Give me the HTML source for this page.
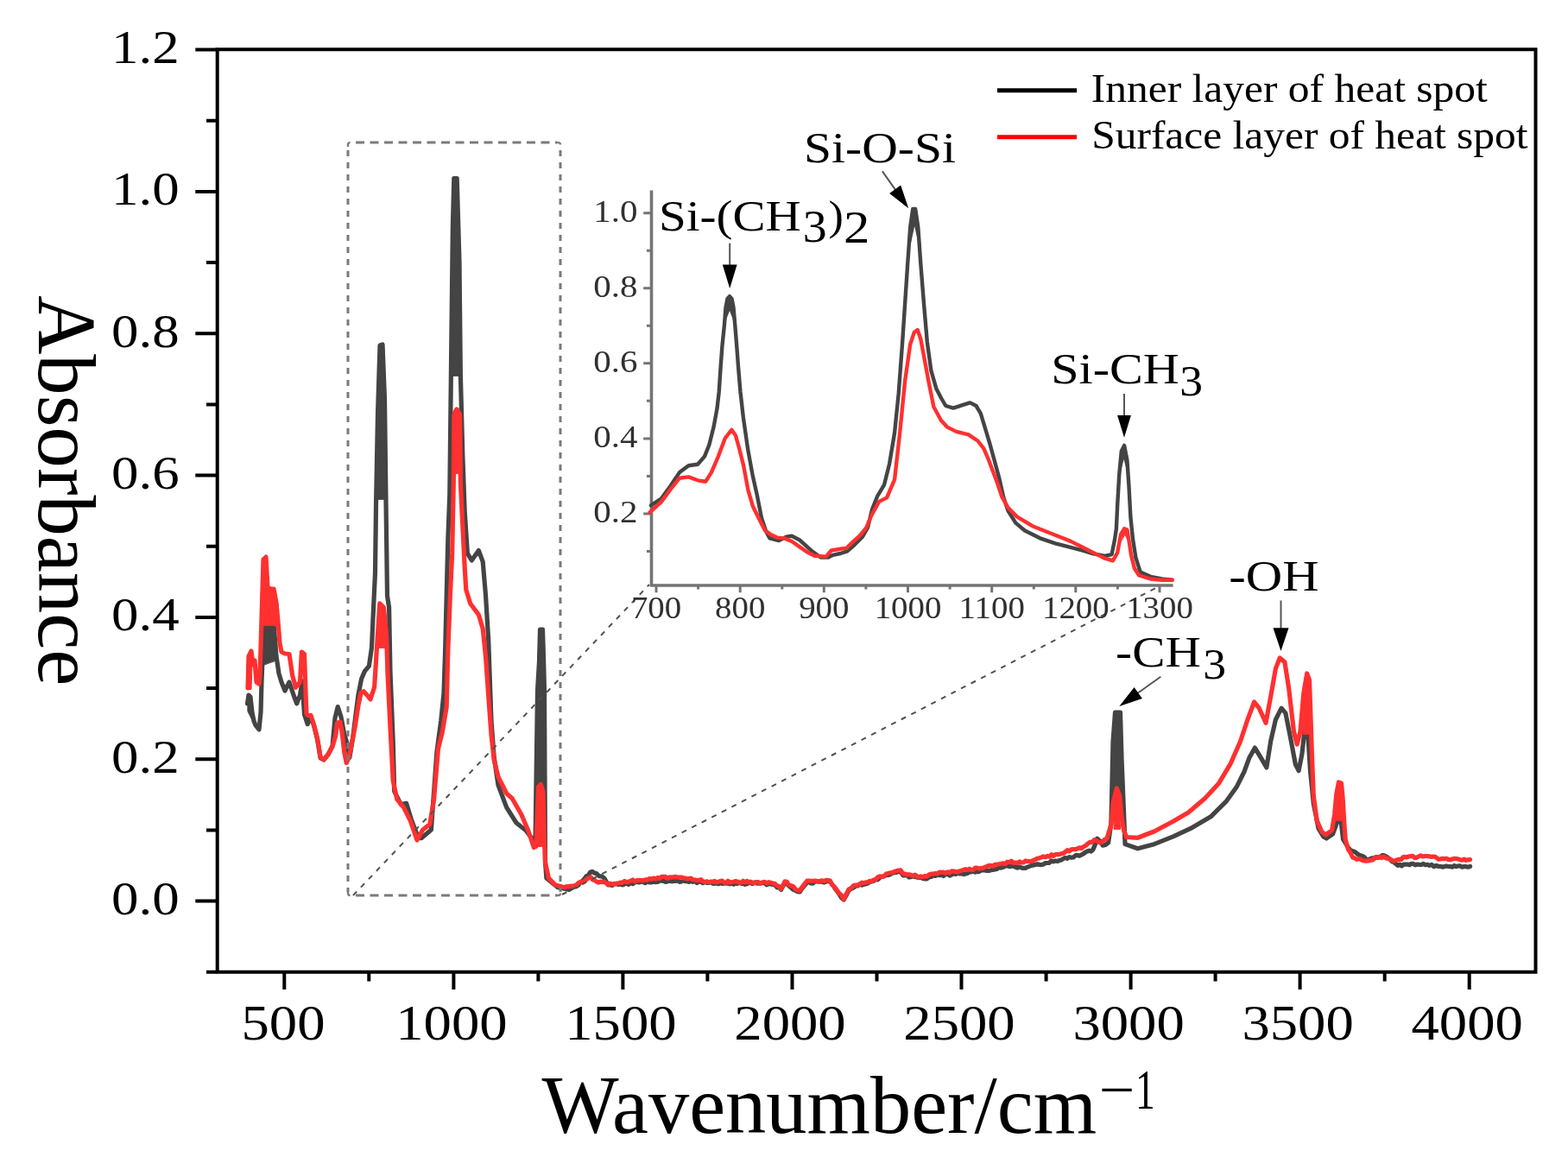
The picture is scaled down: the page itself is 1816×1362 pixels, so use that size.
<!DOCTYPE html><html><head><meta charset="utf-8"><title>FTIR spectra</title><style>html,body{margin:0;padding:0;background:#fff;}svg{display:block;}</style></head><body>
<svg width="1816" height="1362" viewBox="0 0 1816 1362" font-family="'Liberation Serif', 'Times New Roman', serif">
<rect width="1816" height="1362" fill="#fff"/>
<g fill="none" stroke-linejoin="round" stroke-linecap="round">
<polyline points="286.5,815.0 288.0,805.0 290.0,807.0 292.0,825.0 294.0,835.0 296.0,840.0 300.0,845.0 302.0,825.0 303.0,790.0 305.0,740.0 307.0,725.0 310.0,728.0 313.0,715.0 316.0,712.0 318.0,735.0 320.0,760.0 323.0,780.0 326.0,790.0 330.0,800.0 335.0,790.0 340.0,805.0 343.7,814.9 347.5,805.0 350.0,788.7 352.5,827.4 356.2,838.6 360.0,830.0 363.7,841.0 367.5,856.0 371.2,878.0 375.0,880.0 380.0,874.0 385.0,864.0 388.0,831.6 391.2,818.6 394.9,829.9 398.7,850.0 402.4,862.3 404.9,877.3 408.6,854.8 414.9,804.9 418.6,786.2 422.4,777.4 427.4,771.4 430.5,749.8 432.0,715.8 434.5,663.3 435.5,585.0 437.5,480.0 440.0,400.0 443.0,399.0 445.5,462.0 447.0,580.0 448.5,690.0 450.6,703.5 452.0,777.5 455.2,857.8 456.7,916.4 464.4,931.8 470.6,930.3 476.8,950.4 484.5,970.4 488.0,970.7 499.4,961.0 505.9,870.5 510.7,835.0 514.0,802.6 515.6,754.0 517.2,689.4 518.8,624.7 520.8,572.0 522.5,422.0 524.3,265.0 525.8,206.5 529.2,206.5 532.0,303.0 533.4,435.0 535.8,526.0 538.2,592.3 541.4,640.9 546.3,649.0 554.4,637.6 559.2,650.6 562.5,689.4 565.7,741.0 567.3,786.4 569.0,835.0 572.2,877.0 577.0,909.3 586.7,935.2 598.0,953.0 609.0,961.7 617.0,972.3 620.0,975.0 622.5,800.0 624.5,766.0 625.5,729.0 628.5,729.0 629.5,761.0 630.5,800.0 631.5,998.7 632.9,1017.0 646.0,1027.8 659.3,1030.4 661.9,1028.6 664.6,1026.8 667.2,1026.8 669.9,1025.1 672.2,1021.7 674.4,1020.7 676.7,1018.0 678.9,1014.9 681.2,1013.8 683.4,1010.4 685.7,1009.3 688.4,1010.9 691.0,1011.7 693.7,1014.6 696.9,1014.8 700.0,1017.2 704.3,1025.0 706.7,1024.6 709.1,1025.5 711.5,1023.5 713.8,1023.6 716.2,1024.5 718.6,1024.0 721.0,1024.9 723.4,1023.8 725.8,1023.1 728.2,1024.3 730.5,1021.7 732.9,1023.6 735.3,1021.9 737.7,1021.3 740.1,1022.0 742.5,1021.0 744.9,1021.4 747.3,1022.7 749.7,1020.9 752.0,1021.9 754.4,1022.0 756.8,1021.3 759.2,1021.7 761.6,1021.5 763.9,1020.2 766.2,1020.1 768.6,1020.4 770.9,1021.5 773.2,1020.7 775.6,1020.3 777.9,1020.8 780.2,1020.5 782.4,1020.4 784.6,1020.0 786.9,1021.3 789.1,1021.0 791.3,1019.8 793.5,1020.7 795.8,1020.6 798.0,1021.5 800.2,1020.5 802.5,1021.3 804.9,1020.4 807.2,1022.5 809.5,1020.5 811.8,1021.5 814.1,1022.7 816.5,1021.3 818.8,1022.5 821.0,1022.5 823.2,1021.4 825.4,1023.1 827.6,1023.3 829.8,1022.9 832.0,1023.7 834.3,1022.3 836.5,1023.3 838.7,1023.1 840.9,1023.1 843.1,1022.8 845.3,1023.8 847.5,1023.0 849.7,1024.2 851.9,1022.9 854.1,1023.4 856.3,1021.9 858.5,1023.5 860.7,1023.4 862.9,1024.3 865.1,1023.8 867.3,1022.4 869.5,1022.7 871.7,1023.4 873.9,1021.8 876.1,1023.0 878.5,1023.1 880.9,1022.6 883.3,1022.7 885.7,1022.7 888.0,1024.8 890.4,1023.4 892.8,1023.9 895.2,1024.5 897.6,1025.0 900.0,1027.8 902.3,1027.5 904.7,1030.4 909.0,1022.0 911.4,1023.9 913.8,1026.1 916.2,1028.0 918.7,1030.2 921.2,1031.3 923.7,1032.7 926.2,1033.0 929.1,1028.8 931.9,1025.4 934.8,1022.0 937.0,1021.6 939.2,1022.9 941.5,1023.1 943.7,1020.9 945.9,1020.9 948.1,1021.1 950.4,1021.0 952.6,1021.6 954.8,1021.9 957.0,1021.0 959.3,1020.3 961.5,1021.5 963.9,1024.5 966.2,1027.5 968.6,1031.0 971.5,1034.8 974.3,1039.5 977.2,1042.0 980.1,1037.0 983.0,1031.0 985.8,1029.4 988.7,1028.0 991.5,1026.0 993.7,1025.8 996.0,1023.6 998.2,1025.2 1000.4,1024.3 1002.7,1023.9 1004.9,1023.1 1007.1,1021.4 1009.4,1020.8 1011.6,1020.5 1014.1,1018.5 1016.5,1018.8 1019.0,1016.4 1021.4,1015.4 1023.9,1014.7 1026.3,1013.6 1028.8,1013.5 1031.2,1012.5 1033.6,1011.2 1035.9,1010.5 1038.3,1010.3 1040.7,1009.5 1043.1,1010.0 1046.0,1014.0 1048.3,1014.0 1050.6,1013.5 1052.8,1016.0 1055.1,1015.7 1057.4,1014.8 1059.7,1015.5 1062.0,1016.1 1064.2,1016.4 1066.5,1016.2 1068.8,1017.5 1071.2,1017.9 1073.6,1017.8 1076.0,1015.9 1078.4,1015.5 1080.8,1013.9 1083.2,1014.5 1085.6,1013.3 1088.0,1013.7 1090.3,1013.3 1092.7,1014.5 1095.1,1012.6 1097.5,1012.0 1099.9,1014.2 1102.3,1012.9 1104.7,1011.7 1107.0,1012.5 1109.4,1011.0 1111.8,1012.0 1114.0,1011.8 1116.2,1012.6 1118.4,1012.0 1120.6,1011.3 1122.8,1009.8 1125.0,1009.8 1127.2,1009.0 1129.4,1010.2 1131.6,1009.3 1133.8,1009.6 1136.0,1008.2 1138.2,1007.6 1140.4,1008.0 1142.8,1008.4 1145.2,1008.5 1147.6,1007.8 1149.9,1007.3 1152.3,1007.0 1154.7,1006.4 1157.1,1004.7 1159.5,1005.1 1161.8,1004.3 1164.2,1003.1 1166.6,1002.7 1169.0,1003.6 1171.3,1003.1 1173.7,1003.1 1176.0,1004.3 1178.3,1005.1 1180.7,1003.8 1183.0,1005.1 1185.3,1005.3 1187.7,1005.3 1190.0,1004.2 1192.3,1003.3 1194.6,1002.4 1196.9,1001.9 1199.2,1001.4 1201.5,1000.9 1203.8,1001.4 1206.2,1001.6 1208.5,1001.0 1210.8,999.5 1213.1,999.5 1215.4,999.3 1217.7,996.9 1220.0,997.9 1222.3,997.0 1224.6,997.5 1226.9,996.6 1229.2,995.9 1231.5,994.6 1233.8,993.3 1236.1,994.3 1238.4,992.5 1240.8,993.2 1243.1,993.0 1245.4,990.9 1247.7,990.4 1250.0,991.2 1252.3,990.1 1254.6,988.9 1256.9,987.1 1259.1,986.0 1261.4,985.1 1263.6,986.0 1265.9,984.0 1268.3,978.3 1270.7,971.1 1274.0,974.2 1277.2,979.2 1280.4,978.4 1283.6,976.0 1286.9,953.4 1287.7,917.9 1289.0,859.0 1291.5,825.0 1297.5,825.0 1299.0,877.5 1301.3,934.0 1303.0,977.6 1317.6,982.8 1336.7,977.7 1358.7,968.9 1380.7,958.6 1402.8,945.4 1420.4,927.8 1432.1,911.6 1440.9,894.0 1446.8,877.8 1453.4,866.1 1460.2,877.4 1466.9,888.9 1471.7,858.3 1477.4,833.5 1484.1,820.2 1488.9,825.9 1494.6,854.5 1500.3,885.0 1504.1,892.7 1507.9,873.6 1510.8,846.9 1512.7,831.6 1514.6,846.9 1517.5,892.7 1521.3,930.8 1527.0,959.5 1532.7,969.0 1536.3,971.0 1543.6,965.8 1548.3,953.2 1550.4,940.0 1553.0,950.0 1555.5,972.0 1561.4,981.5 1564.0,984.6 1566.6,985.6 1569.2,986.6 1571.8,988.8 1574.4,990.5 1577.0,991.0 1579.7,992.3 1582.3,995.1 1584.6,995.9 1586.9,994.6 1589.3,993.8 1591.6,994.4 1593.9,992.6 1596.2,993.3 1598.6,992.7 1600.9,990.6 1603.2,990.9 1605.4,991.9 1607.7,993.6 1609.9,995.2 1612.2,997.7 1614.4,998.5 1616.7,1000.5 1618.9,1002.4 1621.1,1001.1 1623.4,1002.9 1625.6,1001.1 1627.9,1001.1 1630.1,1001.1 1632.4,1001.7 1634.6,1000.3 1636.9,1000.3 1639.2,1001.9 1641.6,1001.0 1643.9,1001.3 1646.2,1001.5 1648.5,1000.4 1650.9,1001.8 1653.2,1001.3 1655.5,1002.4 1658.1,1001.4 1660.8,1003.7 1663.4,1002.4 1666.0,1003.5 1668.3,1003.4 1670.6,1004.1 1672.9,1003.6 1675.2,1003.0 1677.4,1003.5 1679.7,1003.6 1682.0,1004.2 1684.3,1002.5 1686.6,1003.7 1688.9,1002.8 1691.2,1002.9 1693.4,1004.2 1695.7,1003.5 1698.0,1003.7 1700.3,1004.2 1702.6,1003.5" stroke="#444" stroke-width="5.2"/>
<polygon points="435.5,578.0 437.5,480.0 439.5,399.0 444.5,399.0 446.0,462.0 448.5,578.0" fill="#444" stroke="#444" stroke-width="1"/>
<polygon points="522.5,435.0 523.4,300.0 524.6,240.0 525.8,206.5 529.2,206.5 530.8,240.0 532.0,303.0 533.4,435.0" fill="#444" stroke="#444" stroke-width="1"/>
<polygon points="623.5,975.0 624.0,766.0 625.5,729.0 628.5,729.0 630.0,761.0 630.5,975.0" fill="#444" stroke="#444" stroke-width="1"/>
<polygon points="1289.0,950.0 1290.0,859.0 1292.0,825.0 1296.5,825.0 1298.5,877.0 1300.0,950.0" fill="#444" stroke="#444" stroke-width="1"/>
<polygon points="305.0,770.0 306.0,735.0 309.0,727.0 313.0,716.0 316.0,713.0 318.0,735.0 319.0,765.0" fill="#444" stroke="#444" stroke-width="1"/>
<polygon points="287.0,812.0 290.0,806.0 296.0,838.0 300.0,846.0 296.0,842.0 287.0,824.0" fill="#444" stroke="#444" stroke-width="1"/>
<polyline points="287.0,797.0 288.0,760.0 291.0,754.0 293.0,770.0 295.0,765.0 297.0,790.0 300.0,792.0 301.0,780.0 302.0,750.0 303.0,716.0 304.0,682.0 305.0,648.0 308.0,645.0 310.0,680.0 313.0,682.0 317.0,682.0 320.0,698.0 322.0,720.0 324.0,745.0 326.0,755.0 330.0,757.0 335.0,757.5 338.7,782.4 342.5,796.2 347.5,790.0 349.4,755.0 352.5,757.5 353.7,792.4 355.0,827.4 360.0,828.6 363.7,839.8 367.5,854.8 371.2,877.3 375.0,879.8 380.0,873.6 385.0,864.8 388.7,852.3 390.5,837.4 393.7,836.1 396.2,848.6 398.7,871.0 401.2,883.5 404.3,877.3 407.4,861.0 411.1,842.3 414.9,817.4 418.0,802.4 421.2,800.7 425.0,804.9 429.0,810.0 433.6,796.0 436.7,746.7 439.8,698.8 444.4,703.5 447.5,734.3 449.0,780.6 452.0,842.3 455.2,904.0 459.8,925.7 467.5,935.0 475.2,950.4 483.0,973.0 489.7,961.0 497.8,954.6 502.6,925.5 507.5,867.2 512.3,847.8 517.2,818.7 518.8,754.0 521.4,689.4 523.7,640.9 525.3,560.0 526.0,480.0 529.0,474.0 532.5,480.0 533.4,560.0 536.6,624.7 538.2,657.0 539.8,683.0 544.7,699.0 554.4,712.0 559.2,728.2 562.5,760.5 565.7,805.8 569.0,851.0 572.2,880.2 577.0,899.6 586.7,919.0 593.2,924.7 603.8,943.2 611.7,961.7 618.3,981.5 621.0,980.2 623.6,911.5 626.3,908.5 628.9,916.8 630.2,964.3 631.5,998.7 635.5,1017.2 643.4,1025.1 654.0,1027.8 656.2,1026.7 658.4,1027.0 660.6,1026.1 662.8,1026.3 665.0,1025.9 667.2,1025.1 669.9,1022.6 672.5,1021.2 675.1,1022.0 677.8,1019.8 680.0,1017.9 682.2,1016.5 684.4,1015.9 686.6,1019.0 688.8,1019.4 691.0,1021.2 693.2,1022.1 695.5,1021.1 697.8,1021.6 700.0,1021.2 704.3,1024.4 706.7,1023.1 709.1,1024.0 711.5,1024.3 713.8,1023.0 716.2,1023.2 718.6,1022.2 721.0,1022.3 723.4,1020.4 725.8,1021.9 728.2,1021.1 730.5,1020.1 732.9,1019.0 735.3,1020.9 737.7,1019.6 740.1,1019.3 742.5,1019.6 744.9,1019.7 747.3,1018.9 749.7,1019.2 752.0,1017.5 754.4,1018.2 756.8,1017.0 759.2,1017.9 761.6,1016.5 763.9,1017.4 766.2,1015.3 768.6,1015.3 770.9,1015.4 773.2,1017.3 775.6,1015.8 777.9,1016.2 780.2,1015.8 782.4,1015.4 784.6,1016.1 786.9,1016.0 789.1,1016.0 791.3,1016.8 793.5,1017.0 795.8,1017.9 798.0,1017.5 800.2,1017.2 802.5,1018.8 804.9,1019.0 807.2,1019.8 809.5,1019.4 811.8,1018.6 814.1,1020.8 816.5,1021.6 818.8,1020.8 821.0,1021.9 823.2,1021.1 825.4,1021.5 827.6,1020.3 829.8,1021.9 832.0,1021.3 834.3,1020.6 836.5,1020.1 838.7,1022.2 840.9,1022.6 843.1,1020.3 845.3,1022.2 847.5,1021.5 849.7,1021.3 851.9,1020.6 854.1,1021.0 856.3,1022.2 858.5,1022.5 860.7,1020.3 862.9,1021.8 865.1,1020.3 867.3,1022.1 869.5,1021.1 871.7,1022.5 873.9,1022.7 876.1,1021.5 878.5,1021.7 880.9,1023.3 883.3,1021.7 885.7,1021.3 888.0,1022.9 890.4,1021.7 892.8,1022.3 895.2,1023.1 897.6,1023.6 900.0,1025.8 902.3,1026.6 904.7,1029.4 909.0,1020.8 911.4,1021.3 913.8,1025.1 916.2,1025.8 918.7,1026.7 921.2,1029.8 923.7,1031.1 926.2,1031.5 929.1,1027.3 931.9,1023.7 934.8,1020.0 937.0,1020.1 939.2,1020.4 941.5,1020.3 943.7,1020.2 945.9,1020.4 948.1,1021.2 950.4,1020.1 952.6,1019.9 954.8,1020.6 957.0,1019.4 959.3,1019.6 961.5,1020.1 963.9,1024.7 966.2,1026.8 968.6,1030.1 971.5,1034.1 974.3,1036.5 977.2,1041.6 980.1,1035.6 983.0,1030.1 985.8,1028.6 988.7,1025.5 991.5,1025.1 993.7,1024.8 996.0,1024.2 998.2,1022.1 1000.4,1022.9 1002.7,1021.8 1004.9,1021.8 1007.1,1020.3 1009.4,1020.6 1011.6,1019.4 1014.1,1018.9 1016.5,1015.9 1019.0,1014.9 1021.4,1015.3 1023.9,1015.0 1026.3,1012.0 1028.8,1011.5 1031.2,1010.8 1033.6,1010.5 1035.9,1009.2 1038.3,1008.7 1040.7,1008.0 1043.1,1007.9 1046.0,1012.2 1048.3,1012.2 1050.6,1013.2 1052.8,1012.8 1055.1,1013.3 1057.4,1014.7 1059.7,1013.1 1062.0,1014.9 1064.2,1015.7 1066.5,1014.9 1068.8,1015.8 1071.2,1014.4 1073.6,1015.2 1076.0,1013.0 1078.4,1012.1 1080.8,1012.0 1083.2,1011.5 1085.6,1011.8 1088.0,1010.0 1090.3,1010.3 1092.7,1010.1 1095.1,1011.2 1097.5,1009.9 1099.9,1010.8 1102.3,1008.8 1104.7,1009.0 1107.0,1009.6 1109.4,1009.9 1111.8,1008.7 1114.0,1008.2 1116.2,1007.3 1118.4,1006.7 1120.6,1007.5 1122.8,1006.2 1125.0,1007.5 1127.2,1007.3 1129.4,1005.2 1131.6,1005.1 1133.8,1006.2 1136.0,1005.4 1138.2,1005.5 1140.4,1004.4 1142.8,1003.5 1145.2,1002.5 1147.6,1002.4 1149.9,1003.2 1152.3,1001.4 1154.7,1001.1 1157.1,1000.8 1159.5,1000.3 1161.8,999.8 1164.2,1000.7 1166.6,998.2 1169.0,998.6 1171.3,997.2 1173.7,999.5 1176.0,999.2 1178.3,999.4 1180.7,997.8 1183.0,999.0 1185.3,998.9 1187.7,996.9 1190.0,997.5 1192.3,997.6 1194.6,997.3 1196.9,996.3 1199.2,995.3 1201.5,994.2 1203.8,993.7 1206.2,992.9 1208.5,991.9 1210.8,992.7 1213.1,991.4 1215.4,992.2 1217.7,989.6 1220.0,991.3 1222.3,989.7 1224.6,989.6 1226.9,989.5 1229.2,988.8 1231.5,988.2 1233.8,986.7 1236.1,984.6 1238.4,985.9 1240.8,983.8 1243.1,983.5 1245.4,983.8 1247.7,982.8 1250.0,981.8 1252.3,982.6 1254.6,980.8 1257.2,979.5 1259.8,977.1 1262.3,975.3 1264.9,975.3 1267.5,972.7 1270.8,974.3 1274.0,976.0 1276.7,975.1 1279.3,972.3 1282.0,971.1 1286.9,955.0 1289.3,929.2 1293.3,913.0 1296.6,921.0 1299.0,945.3 1301.4,961.4 1304.6,969.5 1317.6,970.3 1336.7,963.0 1358.7,951.2 1376.3,941.0 1395.4,924.8 1411.6,907.2 1424.8,885.2 1436.5,858.7 1445.3,832.3 1452.6,813.0 1458.3,820.2 1466.0,837.3 1471.7,806.8 1477.4,774.4 1482.2,762.0 1487.9,766.7 1492.7,797.3 1498.4,846.9 1502.2,862.1 1506.0,846.9 1509.8,803.0 1513.7,780.0 1516.5,787.7 1517.5,816.3 1519.4,873.6 1521.3,921.3 1525.1,950.0 1530.8,963.3 1535.2,966.8 1542.6,961.6 1545.7,942.8 1547.8,919.8 1550.4,906.0 1553.5,907.2 1555.1,924.0 1556.7,951.1 1558.2,972.1 1561.4,983.6 1564.0,987.5 1566.6,993.0 1569.2,993.9 1571.8,995.4 1574.5,994.5 1577.1,996.1 1579.7,996.9 1582.3,997.2 1584.9,996.9 1587.5,996.1 1590.1,995.9 1592.8,992.8 1595.4,993.4 1598.0,992.0 1600.4,993.6 1602.9,992.2 1605.3,994.0 1608.1,994.5 1610.9,995.5 1613.7,997.2 1615.9,996.7 1618.2,995.8 1620.4,995.3 1622.7,995.5 1624.9,992.9 1627.2,992.4 1629.4,993.0 1631.7,991.9 1633.9,991.7 1636.2,991.4 1638.5,993.6 1640.7,993.1 1643.0,992.0 1645.3,990.9 1647.7,992.0 1650.0,991.5 1652.4,991.5 1654.8,991.6 1657.1,992.4 1659.5,992.2 1661.8,992.0 1666.0,995.1 1668.3,994.8 1670.6,994.4 1672.9,994.7 1675.2,994.2 1677.4,995.4 1679.7,995.8 1682.0,995.0 1684.3,994.3 1686.6,994.5 1688.9,995.1 1691.2,995.7 1693.4,996.2 1695.7,995.2 1698.0,996.3 1700.3,995.9 1702.6,995.6" stroke="#ff3030" stroke-width="5.2"/>
<polygon points="523.5,548.0 524.5,478.0 527.0,473.0 531.0,473.0 533.5,478.0 535.0,548.0" fill="#ff3030" stroke="#ff3030" stroke-width="1"/>
<polygon points="437.0,750.0 439.0,701.0 443.0,701.0 447.0,735.0 447.5,750.0" fill="#ff3030" stroke="#ff3030" stroke-width="1"/>
<polygon points="622.5,980.0 624.0,912.0 626.3,908.5 628.5,912.0 629.5,980.0" fill="#ff3030" stroke="#ff3030" stroke-width="1"/>
<polygon points="1290.0,960.0 1291.5,925.0 1293.3,914.0 1295.5,921.0 1297.5,960.0" fill="#ff3030" stroke="#ff3030" stroke-width="1"/>
<polygon points="1509.0,850.0 1511.5,790.0 1513.7,781.0 1516.5,788.0 1518.5,850.0" fill="#ff3030" stroke="#ff3030" stroke-width="1"/>
<polygon points="1546.5,950.0 1548.0,915.0 1550.4,906.5 1553.5,907.5 1555.5,930.0 1556.0,950.0" fill="#ff3030" stroke="#ff3030" stroke-width="1"/>
<polygon points="301.5,724.0 303.0,680.0 304.0,647.0 309.0,645.0 311.0,679.0 318.0,683.0 322.0,700.0 323.0,724.0" fill="#ff3030" stroke="#ff3030" stroke-width="1"/>
<polygon points="286.5,798.0 287.5,760.0 290.0,754.0 292.0,770.0 291.0,798.0" fill="#ff3030" stroke="#ff3030" stroke-width="1"/>
</g>
<g stroke="#000" stroke-width="4.0" fill="none" stroke-linecap="butt">
<path d="M251.7 57.3H1778.5V1125.8H251.7Z"/>
<path d="M226.3 1043.6H251.7M226.3 879.3H251.7M226.3 714.9H251.7M226.3 550.6H251.7M226.3 386.2H251.7M226.3 221.9H251.7M226.3 57.6H251.7M239 1125.8H251.7M239 961.4H251.7M239 797.1H251.7M239 632.7H251.7M239 468.4H251.7M239 304.1H251.7M239 139.7H251.7M329.3 1125.8V1146M525.4 1125.8V1146M721.4 1125.8V1146M917.5 1125.8V1146M1113.5 1125.8V1146M1309.6 1125.8V1146M1505.6 1125.8V1146M1701.7 1125.8V1146M427.3 1125.8V1136.5M623.4 1125.8V1136.5M819.4 1125.8V1136.5M1015.5 1125.8V1136.5M1211.6 1125.8V1136.5M1407.6 1125.8V1136.5M1603.7 1125.8V1136.5"/>
</g>
<g stroke="#7a7a7a" stroke-width="3" fill="none">
<path d="M412.0 165.1H645.0" stroke-dasharray="10 6.5"/>
<path d="M412.0 1037.0H645.0" stroke-dasharray="10 6.5"/>
<path d="M403.0 174.1V1033.0" stroke-dasharray="7 7"/>
<path d="M649.0 174.1V1033.0" stroke-dasharray="7 7"/>
<path d="M403.0 170.1V167.6Q403.0 165.1 405.5 165.1" stroke-width="2.4"/>
<path d="M644.0 165.1H646.5Q649.0 165.1 649.0 167.6" stroke-width="2.4"/>
<path d="M403.0 1032.0V1034.5Q403.0 1037.0 405.5 1037.0" stroke-width="2.4"/>
<path d="M644.0 1037.0H646.5Q649.0 1037.0 649.0 1034.5" stroke-width="2.4"/>
</g>
<g stroke="#505050" stroke-width="2" fill="none" stroke-dasharray="6 7">
<path d="M409 1037L752 677"/>
<path d="M651 1036L1344.5 678"/>
</g>
<g stroke="#747474" stroke-width="3.6" fill="none">
<path d="M754.5 220.6V678H1358.6"/>
<path d="M745.2 594.9H754.5M745.2 507.9H754.5M745.2 420.8H754.5M745.2 333.8H754.5M745.2 246.7H754.5M749 638.4H754.5M749 551.4H754.5M749 464.3H754.5M749 377.3H754.5M749 290.2H754.5M760.0 678V686.3M857.2 678V686.3M954.3 678V686.3M1051.5 678V686.3M1148.7 678V686.3M1245.8 678V686.3M1343.0 678V686.3M808.6 678V682.4M905.8 678V682.4M1002.9 678V682.4M1100.1 678V682.4M1197.3 678V682.4M1294.4 678V682.4" stroke-width="3"/>
</g>
<g fill="none" stroke-linejoin="round" stroke-linecap="round">
<polyline points="754.0,585.4 765.8,577.5 776.4,563.0 787.0,547.1 797.5,539.2 808.1,537.8 816.0,528.6 821.3,515.4 826.6,494.3 830.5,473.2 832.7,454.0 834.6,425.5 836.5,400.0 838.9,376.8 840.5,356.0 842.5,346.0 845.0,343.2 847.5,346.0 849.5,356.0 851.3,376.8 853.2,400.0 855.1,425.5 857.5,454.0 860.9,483.7 866.2,520.7 871.5,549.7 876.8,573.5 882.0,599.9 887.3,615.7 891.5,623.4 902.0,626.1 910.8,621.7 917.0,620.8 925.8,625.2 934.6,633.1 941.7,639.3 950.5,645.5 959.3,645.5 964.6,642.8 973.4,641.0 981.3,638.4 990.1,630.5 998.9,621.7 1005.0,611.0 1010.0,590.0 1016.0,575.0 1024.1,561.3 1030.1,537.2 1036.1,501.1 1040.7,455.9 1045.2,395.7 1048.2,350.5 1051.2,305.3 1054.2,263.1 1057.2,242.0 1060.2,242.0 1063.3,263.1 1066.3,305.3 1069.9,350.5 1073.8,395.7 1078.3,428.8 1084.3,449.9 1090.0,461.0 1095.3,470.0 1104.1,472.6 1114.7,469.1 1123.5,466.4 1130.5,470.0 1135.8,478.8 1141.1,496.4 1146.4,514.0 1151.7,533.4 1157.0,552.8 1162.2,575.7 1167.5,591.5 1176.3,605.6 1186.9,614.5 1204.5,623.3 1222.2,629.4 1239.8,633.8 1253.2,637.4 1266.4,641.4 1279.6,644.0 1287.6,642.1 1290.9,625.5 1292.9,612.3 1294.2,584.6 1296.2,550.2 1298.8,522.5 1302.1,515.9 1305.4,533.0 1307.4,562.1 1309.4,599.1 1312.0,624.2 1315.3,645.4 1320.6,662.5 1332.5,667.8 1345.7,670.5 1357.6,671.8" stroke="#444" stroke-width="4.4"/>
<polygon points="1296.5,552.0 1298.8,522.5 1302.1,516.0 1305.4,533.0 1306.7,552.0 1301.6,532.0" fill="#444"/>
<polygon points="1054.5,284.0 1056.5,244.0 1059.0,240.0 1061.5,244.0 1064.0,284.0 1059.2,262.0" fill="#444"/>
<polygon points="840.3,372.0 842.5,347.0 845.0,343.5 847.5,347.0 849.7,372.0 845.0,360.0" fill="#444"/>
<polyline points="752.6,593.3 765.8,581.4 776.4,566.9 787.0,553.7 797.5,552.4 808.1,556.3 817.3,557.7 823.9,547.1 831.9,528.6 839.8,507.5 847.3,497.8 851.9,504.2 856.5,520.7 861.1,539.1 866.6,568.4 872.1,586.8 879.4,601.5 885.9,614.3 892.3,618.9 900.0,622.6 908.2,623.4 917.0,627.0 925.8,633.1 934.6,639.3 943.4,643.7 956.7,644.6 962.8,637.5 972.5,635.8 980.4,634.9 987.5,627.8 996.3,619.9 1003.3,611.1 1009.0,597.5 1018.1,580.9 1027.1,576.4 1036.1,555.3 1042.2,501.1 1048.2,440.8 1054.2,398.7 1058.7,385.1 1062.7,382.0 1066.3,392.7 1070.8,416.7 1075.3,440.8 1081.3,471.0 1090.0,487.0 1097.0,494.6 1107.6,499.9 1121.7,503.4 1132.3,510.5 1139.3,519.3 1144.6,531.6 1149.9,545.7 1155.2,559.8 1160.5,575.7 1167.5,588.0 1178.1,598.6 1195.7,609.2 1213.3,616.2 1231.0,623.3 1240.0,626.9 1253.2,633.5 1266.4,640.1 1279.6,646.7 1288.9,649.3 1294.2,640.1 1298.1,618.9 1302.1,612.3 1305.4,613.6 1307.4,625.5 1310.0,642.7 1314.0,658.6 1319.3,666.5 1332.5,670.5 1345.7,671.8 1357.6,671.8" stroke="#ff3030" stroke-width="4.4"/>
<polygon points="1299.0,627.0 1300.5,615.0 1302.1,612.5 1305.4,613.6 1306.3,627.0 1302.8,620.0" fill="#ff3030"/>
</g>
<text transform="translate(207.7 1059.0) scale(1.130 1)" font-size="55.7" text-anchor="end" fill="#000">0.0</text>
<text transform="translate(207.7 894.7) scale(1.130 1)" font-size="55.7" text-anchor="end" fill="#000">0.2</text>
<text transform="translate(207.7 730.3) scale(1.130 1)" font-size="55.7" text-anchor="end" fill="#000">0.4</text>
<text transform="translate(207.7 566.0) scale(1.130 1)" font-size="55.7" text-anchor="end" fill="#000">0.6</text>
<text transform="translate(207.7 401.6) scale(1.130 1)" font-size="55.7" text-anchor="end" fill="#000">0.8</text>
<text transform="translate(207.7 237.3) scale(1.130 1)" font-size="55.7" text-anchor="end" fill="#000">1.0</text>
<text transform="translate(207.7 73.0) scale(1.130 1)" font-size="55.7" text-anchor="end" fill="#000">1.2</text>
<text transform="translate(328.0 1204.4) scale(1.135 1)" font-size="57.0" text-anchor="middle" fill="#000">500</text>
<text transform="translate(522.9 1204.4) scale(1.135 1)" font-size="57.0" text-anchor="middle" fill="#000">1000</text>
<text transform="translate(718.9 1204.4) scale(1.135 1)" font-size="57.0" text-anchor="middle" fill="#000">1500</text>
<text transform="translate(915.0 1204.4) scale(1.135 1)" font-size="57.0" text-anchor="middle" fill="#000">2000</text>
<text transform="translate(1111.0 1204.4) scale(1.135 1)" font-size="57.0" text-anchor="middle" fill="#000">2500</text>
<text transform="translate(1307.1 1204.4) scale(1.135 1)" font-size="57.0" text-anchor="middle" fill="#000">3000</text>
<text transform="translate(1503.1 1204.4) scale(1.135 1)" font-size="57.0" text-anchor="middle" fill="#000">3500</text>
<text transform="translate(1699.2 1204.4) scale(1.135 1)" font-size="57.0" text-anchor="middle" fill="#000">4000</text>
<text transform="translate(45.3 341.9) rotate(90) scale(0.987 1)" font-size="96">Absorbance</text>
<text transform="translate(627.5 1312.4) scale(0.990 1)" font-size="95.4" fill="#000">Wavenumber/cm</text>
<text transform="translate(1272.7 1283.8) scale(1.120 1)" font-size="65.9" fill="#000">&#8722;</text>
<text transform="translate(1314.9 1283.8) scale(0.690 1)" font-size="65.9" fill="#000">1</text>
<path d="M1155 104.8H1247.1" stroke="#000" stroke-width="5"/>
<path d="M1155 158.8H1247.1" stroke="#ff0000" stroke-width="5"/>
<text transform="translate(1263.8 118.3) scale(1.088 1)" font-size="45.5" fill="#000">Inner layer of heat spot</text>
<text transform="translate(1264.2 172.1) scale(1.087 1)" font-size="45.5" fill="#000">Surface layer of heat spot</text>
<text transform="translate(738.5 605.4) scale(1.160 1)" font-size="35.3" text-anchor="end" fill="#303030">0.2</text>
<text transform="translate(738.5 518.4) scale(1.160 1)" font-size="35.3" text-anchor="end" fill="#303030">0.4</text>
<text transform="translate(738.5 431.3) scale(1.160 1)" font-size="35.3" text-anchor="end" fill="#303030">0.6</text>
<text transform="translate(738.5 344.2) scale(1.160 1)" font-size="35.3" text-anchor="end" fill="#303030">0.8</text>
<text transform="translate(738.5 257.2) scale(1.160 1)" font-size="35.3" text-anchor="end" fill="#303030">1.0</text>
<text transform="translate(760.0 716.0) scale(1.110 1)" font-size="35.0" text-anchor="middle" fill="#303030">700</text>
<text transform="translate(857.2 716.0) scale(1.110 1)" font-size="35.0" text-anchor="middle" fill="#303030">800</text>
<text transform="translate(954.3 716.0) scale(1.110 1)" font-size="35.0" text-anchor="middle" fill="#303030">900</text>
<text transform="translate(1051.5 716.0) scale(1.110 1)" font-size="35.0" text-anchor="middle" fill="#303030">1000</text>
<text transform="translate(1148.7 716.0) scale(1.110 1)" font-size="35.0" text-anchor="middle" fill="#303030">1100</text>
<text transform="translate(1245.8 716.0) scale(1.110 1)" font-size="35.0" text-anchor="middle" fill="#303030">1200</text>
<text transform="translate(1343.0 716.0) scale(1.110 1)" font-size="35.0" text-anchor="middle" fill="#303030">1300</text>
<text transform="translate(931.0 188.1) scale(1.145 1)" font-size="50.3" fill="#000">Si-O-Si</text>
<text transform="translate(762.9 267.2) scale(1.108 1)" font-size="51.5" fill="#000">Si-(CH</text>
<text transform="translate(929.7 280.3) scale(1.045 1)" font-size="53.4" fill="#000">3</text>
<text transform="translate(959.5 265.5) scale(1.060 1)" font-size="49.2" fill="#000">)</text>
<text transform="translate(977.1 280.8) scale(1.146 1)" font-size="53.0" fill="#000">2</text>
<text transform="translate(1217.2 444.0) scale(1.147 1)" font-size="50.7" fill="#000">Si-CH</text>
<text transform="translate(1366.3 457.5) scale(1.040 1)" font-size="51.5" fill="#000">3</text>
<text transform="translate(1292.1 772.3) scale(1.117 1)" font-size="51.3" fill="#000">-CH</text>
<text transform="translate(1393.2 785.5) scale(1.046 1)" font-size="51.3" fill="#000">3</text>
<text transform="translate(1423.3 684.2) scale(1.144 1)" font-size="51.3" fill="#000">-OH</text>
<path d="M845.2 281.7L845.2 308.4" stroke="#555" stroke-width="2"/><path d="M845.2 334.0L836.8 306.4L853.6 306.4Z" fill="#000"/>
<path d="M1021.9 198.4L1037.8 220.9" stroke="#555" stroke-width="2"/><path d="M1052.2 241.3L1030.1 223.9L1043.2 214.6Z" fill="#000"/>
<path d="M1302.0 456.0L1302.0 483.0" stroke="#555" stroke-width="2"/><path d="M1302.0 506.7L1294.1 481.0L1309.9 481.0Z" fill="#000"/>
<path d="M1344.3 783.7L1316.6 803.5" stroke="#555" stroke-width="2"/><path d="M1296.3 818.1L1313.6 795.9L1322.9 808.9Z" fill="#000"/>
<path d="M1483.5 695.5L1483.5 729.3" stroke="#555" stroke-width="2"/><path d="M1483.5 754.1L1474.5 727.3L1492.5 727.3Z" fill="#000"/>
</svg></body></html>
